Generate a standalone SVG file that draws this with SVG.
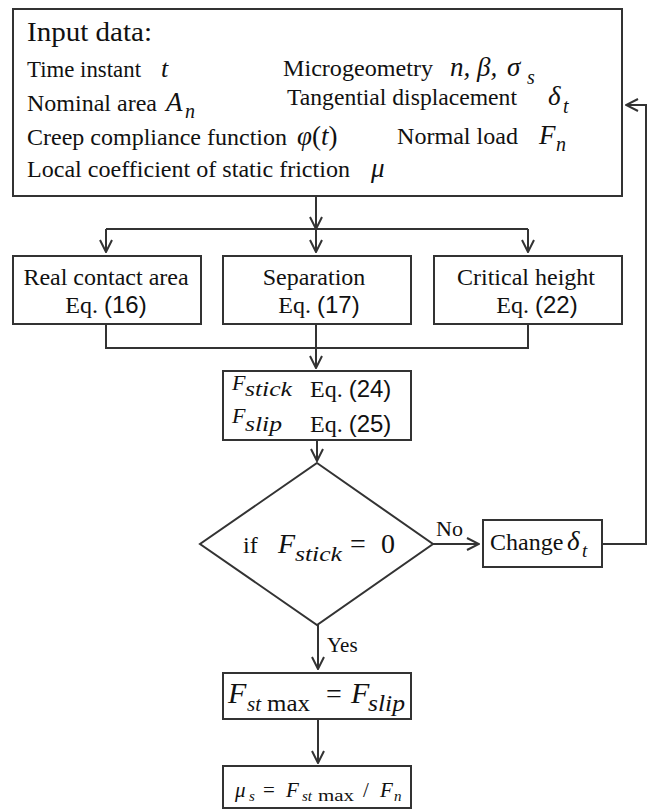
<svg xmlns="http://www.w3.org/2000/svg" width="649" height="811" viewBox="0 0 649 811" font-family="'Liberation Serif', 'Times New Roman', serif" font-size="24">
<defs>
<marker id="ah" viewBox="0 0 14 14" refX="13" refY="7" markerWidth="14" markerHeight="14" markerUnits="userSpaceOnUse" orient="auto">
<path d="M1,1 L13,7 L1,13" fill="none" stroke="#333" stroke-width="2"/>
</marker>
</defs>
<style>
.box{fill:#fff;stroke:#333;stroke-width:2}
.ln{fill:none;stroke:#333;stroke-width:2}
.ar{fill:none;stroke:#333;stroke-width:2;marker-end:url(#ah)}
text{fill:#111}
.m{font-style:italic}
.s{font-family:'Liberation Sans',Arial,sans-serif}
</style>
<rect width="649" height="811" fill="#fff"/>
<g id="connectors">
<path class="ar" d="M316,196 V229"/>
<path class="ln" d="M106,229 H528"/>
<path class="ar" d="M106,229 V252"/>
<path class="ar" d="M316,229 V252"/>
<path class="ar" d="M528,229 V252"/>
<path class="ln" d="M106,324 V348 H528 V324"/>
<path class="ar" d="M316,324 V368"/>
<path class="ar" d="M317,440 V461"/>
<path class="ar" d="M433,544 H479"/>
<path class="ar" d="M602,544 H646 V105 H626"/>
<path class="ar" d="M318,625 V669"/>
<path class="ar" d="M318,719 V763"/>
</g>
<g id="input">
<rect class="box" x="13" y="9" width="609" height="187"/>
<text x="27" y="41" font-size="27" textLength="125" lengthAdjust="spacingAndGlyphs">Input data:</text>
<text x="27" y="77" font-size="24" textLength="114" lengthAdjust="spacingAndGlyphs">Time instant</text>
<text x="161" y="77" class="m" font-size="26">t</text>
<text x="283" y="76" font-size="23" textLength="150" lengthAdjust="spacingAndGlyphs">Microgeometry</text>
<text y="76" class="m" font-size="27"><tspan x="450">n,</tspan><tspan x="477">β,</tspan><tspan x="507">σ</tspan></text>
<text x="527" y="84" class="m" font-size="20">s</text>
<text x="27" y="111" font-size="24" textLength="130" lengthAdjust="spacingAndGlyphs">Nominal area</text>
<text x="166" y="111" class="m" font-size="27">A</text>
<text x="185" y="118" class="m" font-size="20">n</text>
<text x="287" y="105" font-size="24" textLength="230" lengthAdjust="spacingAndGlyphs">Tangential displacement</text>
<text x="548" y="105" class="m" font-size="27">δ</text>
<text x="563" y="113" class="m" font-size="20">t</text>
<text x="27" y="145" textLength="260" lengthAdjust="spacingAndGlyphs">Creep compliance function</text>
<text x="297" y="145" font-size="27"><tspan class="m">φ</tspan>(<tspan class="m">t</tspan>)</text>
<text x="397" y="144" textLength="121" lengthAdjust="spacingAndGlyphs">Normal load</text>
<text x="539" y="144" class="m" font-size="27">F</text>
<text x="556" y="151" class="m" font-size="20">n</text>
<text x="27" y="177" textLength="323" lengthAdjust="spacingAndGlyphs">Local coefficient of static friction</text>
<text x="371" y="177" class="m" font-size="27">μ</text>
</g>
<g id="real-contact-area">
<rect class="box" x="13" y="256" width="188" height="68"/>
<text x="106" y="285" text-anchor="middle">Real contact area</text>
<text x="106" y="313" text-anchor="middle">Eq. <tspan class="s">(16)</tspan></text>
</g>
<g id="separation">
<rect class="box" x="223" y="256" width="188" height="68"/>
<text x="314" y="285" text-anchor="middle">Separation</text>
<text x="319" y="313" text-anchor="middle">Eq. <tspan class="s">(17)</tspan></text>
</g>
<g id="critical-height">
<rect class="box" x="434" y="256" width="188" height="68"/>
<text x="526" y="285" text-anchor="middle">Critical height</text>
<text x="537" y="313" text-anchor="middle">Eq. <tspan class="s">(22)</tspan></text>
</g>
<g id="forces">
<rect class="box" x="223" y="371" width="188" height="69"/>
<text x="232" y="390" class="m" font-size="22">F</text>
<text x="245" y="396" class="m" font-size="21" textLength="47" lengthAdjust="spacingAndGlyphs">stick</text>
<text x="310" y="397">Eq. <tspan class="s">(24)</tspan></text>
<text x="232" y="423" class="m" font-size="22">F</text>
<text x="245" y="431" class="m" font-size="21" textLength="37" lengthAdjust="spacingAndGlyphs">slip</text>
<text x="310" y="432">Eq. <tspan class="s">(25)</tspan></text>
</g>
<g id="decision">
<path class="box" d="M317,463 L433,544 L317,625 L200,544 Z"/>
<text x="243" y="553">if</text>
<text x="278" y="553" class="m" font-size="28">F</text>
<text x="295" y="561" class="m" font-size="22" textLength="47" lengthAdjust="spacingAndGlyphs">stick</text>
<text x="350" y="553" font-size="28">=</text>
<text x="381" y="553" font-size="28">0</text>
<text x="436" y="536" font-size="22">No</text>
<text x="327" y="652" font-size="21">Yes</text>
</g>
<g id="change">
<rect class="box" x="483" y="520" width="119" height="47"/>
<text x="490" y="550">Change</text>
<text x="567" y="550" class="m" font-size="27">δ</text>
<text x="582" y="557" class="m" font-size="19">t</text>
</g>
<g id="fstmax">
<rect class="box" x="223" y="673" width="188" height="46"/>
<text x="228" y="703" class="m" font-size="30">F</text>
<text x="247" y="711" class="m" font-size="21">st</text>
<text x="267" y="711" textLength="43" lengthAdjust="spacingAndGlyphs">max</text>
<text x="326" y="703" font-size="28">=</text>
<text x="351" y="703" class="m" font-size="30">F</text>
<text x="368" y="711" class="m" font-size="23" textLength="37" lengthAdjust="spacingAndGlyphs">slip</text>
</g>
<g id="mus">
<rect class="box" x="223" y="766" width="188" height="42"/>
<text x="235" y="797" class="m" font-size="21">μ</text>
<text x="249" y="801" class="m" font-size="15">s</text>
<text x="263" y="797" font-size="21">=</text>
<text x="286" y="797" class="m" font-size="21">F</text>
<text x="302" y="801" class="m" font-size="15">st</text>
<text x="318" y="801" font-size="16" textLength="36" lengthAdjust="spacingAndGlyphs">max</text>
<text x="363" y="797" font-size="21">/</text>
<text x="380" y="797" class="m" font-size="21">F</text>
<text x="394" y="801" class="m" font-size="15">n</text>
</g>
</svg>
